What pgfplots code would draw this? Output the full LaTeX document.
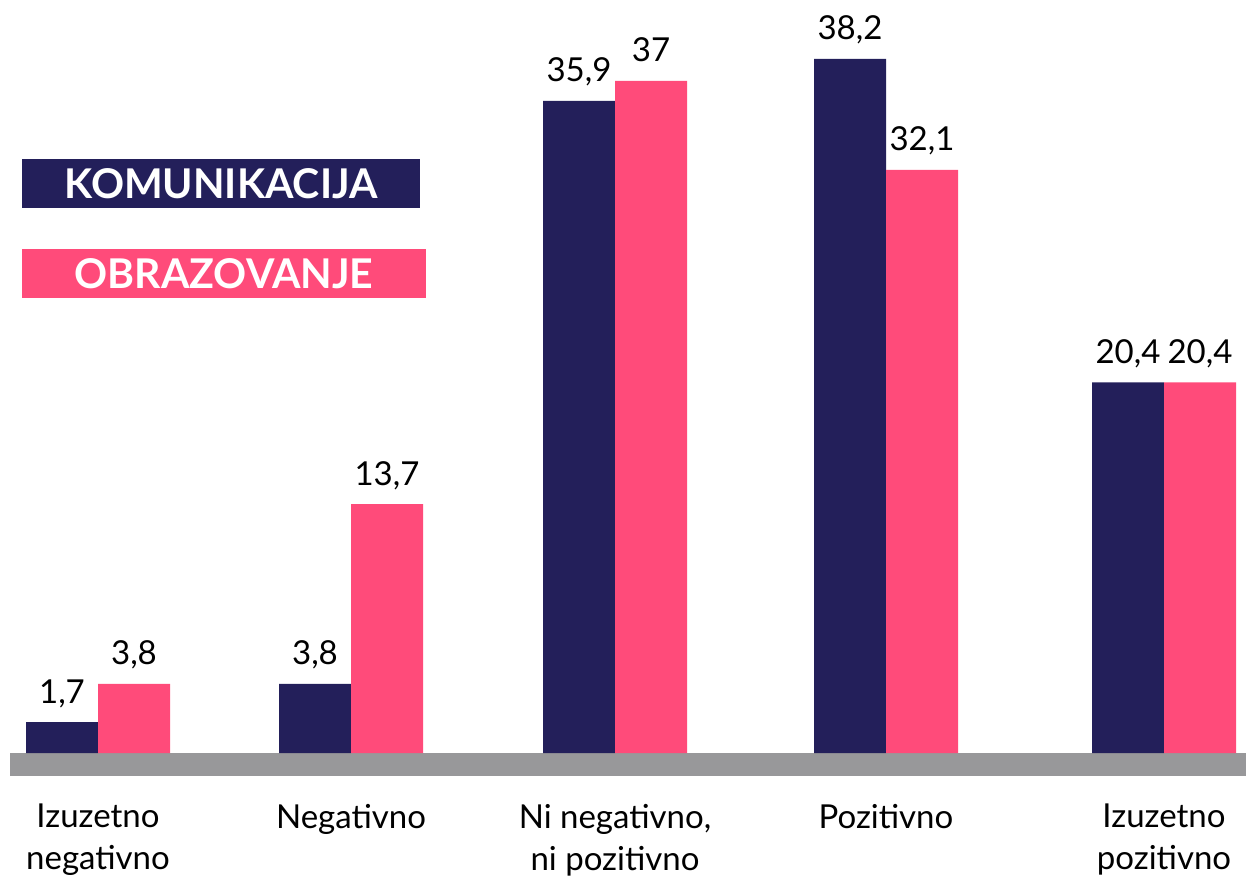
\documentclass[border=0pt]{standalone}
\usepackage{fontspec}
\setmainfont{Lato}
\usepackage{pgfplots}
\pgfplotsset{compat=1.18}
\definecolor{navy}{HTML}{231F5A}
\definecolor{pinkc}{HTML}{FF4B7A}
\definecolor{band}{HTML}{98989A}
\begin{document}
\begin{tikzpicture}
\useasboundingbox (0,-63pt) rectangle (623pt,376.5pt);
\begin{axis}[
 at={(0,0)}, anchor=south west,
 scale only axis, width=623pt, height=376.5pt,
 xmin=0, xmax=1246, ymin=0, ymax=41.447,
 axis line style={draw=none}, tick style={draw=none}, major tick length=0pt,
 ytick=\empty,
 ybar=0pt, bar width=36pt,
 xtick={98,351,615,886,1164},
 xticklabels={{Izuzetno\\negativno},Negativno,{Ni negativno,\\ni pozitivno},Pozitivno,{Izuzetno\\pozitivno}},
 xticklabel style={align=center, font=\fontsize{16.5}{21}\selectfont, yshift=-22pt, text=black},
 /pgf/number format/use comma, /pgf/number format/1000 sep={},
 /pgf/number format/assume math mode=true,
 nodes near coords,
 nodes near coords style={anchor=base, yshift=9.5pt, text=black, font=\fontsize{16.5}{20}\selectfont},
 clip=false,
]
\fill[band] (axis cs:10,0) rectangle (axis cs:1246,-1.266);
\addplot[fill=navy, draw=none] coordinates {(98,1.7) (351,3.8) (615,35.9) (886,38.2) (1164,20.4)};
\addplot[fill=pinkc, draw=none] coordinates {(98,3.8) (351,13.7) (615,37) (886,32.1) (1164,20.4)};
\node[fill=navy, text=white, minimum width=199pt, minimum height=24.5pt, inner sep=0pt, font=\bfseries\fontsize{20.5}{24}\selectfont] at (axis cs:221,31.346) {KOMUNIKACIJA};
\node[fill=pinkc, text=white, minimum width=202pt, minimum height=24.5pt, inner sep=0pt, font=\bfseries\fontsize{20.5}{24}\selectfont] at (axis cs:224,26.39) {OBRAZOVANJE};
\end{axis}
\end{tikzpicture}
\end{document}
